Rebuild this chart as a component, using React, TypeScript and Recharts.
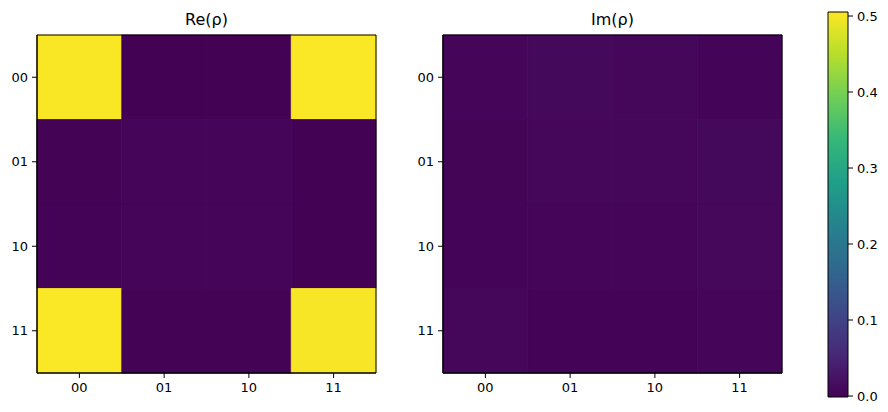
import React from 'react'
import { ScatterChart, Scatter, XAxis, YAxis, ReferenceArea } from 'recharts'

const basis = ['00', '01', '10', '11']

// density matrix, real part (rows = bra 00..11)
const reRows = [
  [0.502, 0.0, 0.0005, 0.503],
  [0.001, 0.006, 0.006, 0.0],
  [0.0015, 0.006, 0.006, 0.0005],
  [0.503, 0.001, 0.001, 0.501],
]

// imaginary part
const imRows = [
  [0.006, 0.01, 0.008, 0.003],
  [0.004, 0.007, 0.007, 0.01],
  [0.005, 0.006, 0.006, 0.009],
  [0.007, 0.002, 0.002, 0.006],
]

const colorbarTicks = [0, 0.1, 0.2, 0.3, 0.4, 0.5]
const vmin = -0.0013
const vmax = 0.5053

const viridis = ['#440154', '#482878', '#3e4989', '#31688e', '#26828e', '#1f9e89', '#35b779', '#6ece58', '#b5de2b', '#fde725']

const FONT = '"DejaVu Sans", sans-serif'

function hex(c: string) {
  return [1, 3, 5].map((i) => parseInt(c.slice(i, i + 2), 16))
}

function colorOf(v: number) {
  let t = (v - vmin) / (vmax - vmin)
  t = Math.max(0, Math.min(1, t)) * (viridis.length - 1)
  const i = Math.min(Math.floor(t), viridis.length - 2)
  const f = t - i
  const a = hex(viridis[i])
  const b = hex(viridis[i + 1])
  const rgb = a.map((x, k) => Math.round(x + (b[k] - x) * f))
  return `rgb(${rgb.join(',')})`
}

const tickStyle = { fill: '#000', fontSize: 13, fontFamily: FONT }

function Heatmap({ rows, title, left }: { rows: number[][]; title: string; left: number }) {
  const cells = rows.flatMap((row, r) => row.map((v, c) => ({ x: c, y: r, v })))
  return (
    <div style={{ position: 'absolute', left, top: 0, width: 400, height: 412 }}>
      <div
        style={{
          position: 'absolute',
          left: 37,
          width: 339,
          top: 10,
          textAlign: 'center',
          fontFamily: FONT,
          fontSize: 16,
          color: '#000',
        }}
      >
        {title}
      </div>
      <ScatterChart width={400} height={412} margin={{ top: 35, right: 24, bottom: 0, left: 0 }}>
        <XAxis
          type="number"
          dataKey="x"
          domain={[-0.5, 3.5]}
          ticks={[0, 1, 2, 3]}
          tickFormatter={(i: number) => basis[i]}
          height={39}
          tickSize={5}
          tick={{ ...tickStyle, dy: 3 }}
          axisLine={{ stroke: '#000' }}
          tickLine={{ stroke: '#000' }}
          allowDataOverflow
        />
        <YAxis
          type="number"
          dataKey="y"
          domain={[-0.5, 3.5]}
          reversed
          ticks={[0, 1, 2, 3]}
          tickFormatter={(i: number) => basis[i]}
          width={37}
          tickSize={5}
          tick={{ ...tickStyle, dx: -2 }}
          axisLine={{ stroke: '#000' }}
          tickLine={{ stroke: '#000' }}
          allowDataOverflow
        />
        {cells.map((d) => (
          <ReferenceArea
            key={`${d.x}-${d.y}`}
            x1={d.x - 0.5}
            x2={d.x + 0.5}
            y1={d.y - 0.5}
            y2={d.y + 0.5}
            fill={colorOf(d.v)}
            fillOpacity={1}
            stroke={colorOf(d.v)}
            strokeWidth={0.8}
          />
        ))}
        <ReferenceArea x1={-0.5} x2={3.5} y1={-0.5} y2={3.5} fill="none" stroke="#000" strokeWidth={1} />
        <Scatter data={cells} fill="none" isAnimationActive={false} />
      </ScatterChart>
    </div>
  )
}

function Colorbar() {
  return (
    <div style={{ position: 'absolute', left: 800, top: 0, width: 88, height: 412 }}>
      <ScatterChart width={88} height={412} margin={{ top: 12, right: 0, bottom: 15, left: 28 }}>
        <defs>
          <linearGradient id="viridis" x1="0" y1="1" x2="0" y2="0">
            {viridis.map((c, i) => (
              <stop key={c} offset={`${(i / (viridis.length - 1)) * 100}%`} stopColor={c} />
            ))}
          </linearGradient>
        </defs>
        <XAxis type="number" dataKey="x" domain={[0, 1]} hide />
        <YAxis
          type="number"
          dataKey="y"
          orientation="right"
          domain={[vmin, vmax]}
          ticks={colorbarTicks}
          tickFormatter={(v: number) => v.toFixed(1)}
          width={40}
          tickSize={5}
          tick={{ ...tickStyle, dx: 2 }}
          axisLine={false}
          tickLine={{ stroke: '#000' }}
          allowDataOverflow
        />
        <ReferenceArea x1={0} x2={1} y1={vmin} y2={vmax} fill="url(#viridis)" fillOpacity={1} stroke="#000" />
        <Scatter data={[{ x: 0.5, y: 0.25 }]} fill="none" isAnimationActive={false} />
      </ScatterChart>
    </div>
  )
}

export default function App() {
  return (
    <div style={{ position: 'fixed', left: 0, top: 0, width: 888, height: 412, background: '#fff' }}>
      <Heatmap rows={reRows} title="Re(ρ)" left={0} />
      <Heatmap rows={imRows} title="Im(ρ)" left={406} />
      <Colorbar />
    </div>
  )
}
